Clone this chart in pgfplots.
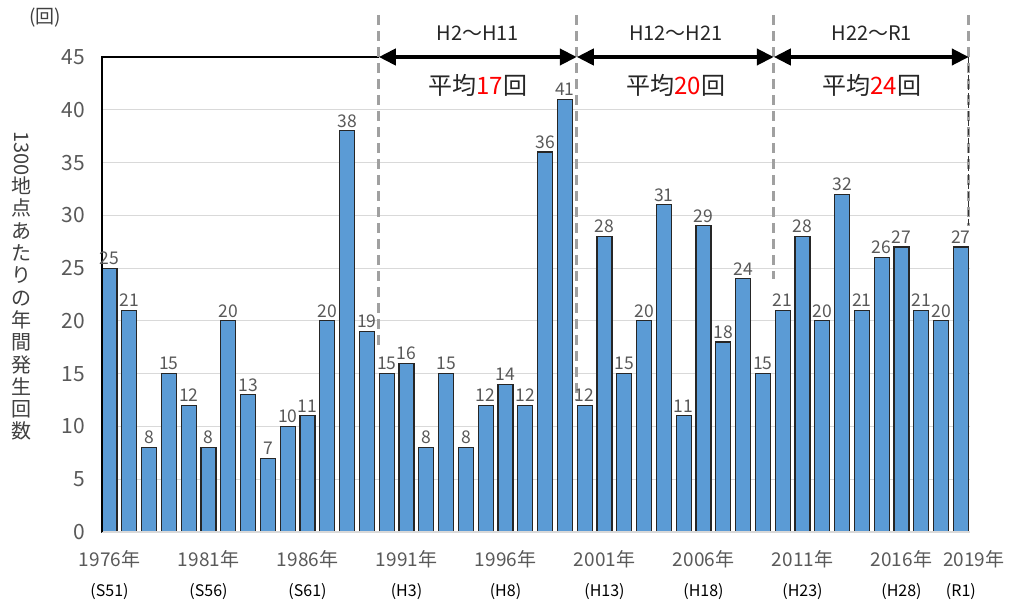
\documentclass[border=0pt]{standalone}
\usepackage{pgfplots}
\pgfplotsset{compat=1.18}
\usepackage{pgfplotstable}
\usepackage{fontspec}
\setmainfont{Noto Sans CJK JP}
\usetikzlibrary{arrows.meta}
\definecolor{barblue}{HTML}{5B9BD5}
\definecolor{txtgray}{HTML}{595959}
\definecolor{gridgray}{HTML}{D9D9D9}
\definecolor{dashgray}{HTML}{A0A0A0}
\definecolor{labdark}{HTML}{404040}

\pgfplotstableread{
year val
1976 25
1977 21
1978 8
1979 15
1980 12
1981 8
1982 20
1983 13
1984 7
1985 10
1986 11
1987 20
1988 38
1989 19
1990 15
1991 16
1992 8
1993 15
1994 8
1995 12
1996 14
1997 12
1998 36
1999 41
2000 12
2001 28
2002 15
2003 20
2004 31
2005 11
2006 29
2007 18
2008 24
2009 15
2010 21
2011 28
2012 20
2013 32
2014 21
2015 26
2016 27
2017 21
2018 20
2019 27
}\datatable

\begin{document}
\begin{tikzpicture}
\path[use as bounding box] (-102pt,-76pt) rectangle (911pt,532pt);
\begin{axis}[
  at={(0,0)}, anchor=south west,
  scale only axis,
  width=868pt, height=475pt,
  xmin=1975.62, xmax=2019.46,
  ymin=0, ymax=45,
  clip=false,
  axis line style={draw=none},
  major tick length=0pt,
  ymajorgrids,
  grid style={gridgray, line width=1pt},
  ytick={0,5,...,40},
  extra y ticks={45},
  extra y tick style={grid=none},
  /pgf/number format/assume math mode=true,
  yticklabel style={font=\fontsize{21}{21}\selectfont, text=txtgray, anchor=east, inner sep=0pt, xshift=-17pt},
  xtick={1976,1981,1986,1991,1996,2001,2006,2011,2016,2019},
  xticklabels={
    {1976年\\\textcolor{black}{\fontsize{16}{16}\selectfont(S51)}},
    {1981年\\\textcolor{black}{\fontsize{16}{16}\selectfont(S56)}},
    {1986年\\\textcolor{black}{\fontsize{16}{16}\selectfont(S61)}},
    {1991年\\\textcolor{black}{\fontsize{16}{16}\selectfont(H3)}},
    {1996年\\\textcolor{black}{\fontsize{16}{16}\selectfont(H8)}},
    {2001年\\\textcolor{black}{\fontsize{16}{16}\selectfont(H13)}},
    {2006年\\\textcolor{black}{\fontsize{16}{16}\selectfont(H18)}},
    {2011年\\\textcolor{black}{\fontsize{16}{16}\selectfont(H23)}},
    {2016年\\\textcolor{black}{\fontsize{16}{16}\selectfont(H28)}},
    {\hspace*{26pt}2019年\\\textcolor{black}{\fontsize{16}{16}\selectfont(R1)}}
  },
  xticklabel style={align=center, font=\fontsize{19}{30}\selectfont, text=txtgray, anchor=north, inner sep=0pt, yshift=-18pt},
]
\addplot[ybar, bar width=0.76, fill=barblue, draw=black!85, line width=1.1pt,
  nodes near coords,
  every node near coord/.append style={font=\fontsize{17.5}{17.5}\selectfont, text=txtgray, inner sep=2pt, yshift=1pt}]
  table[x=year, y=val] {\datatable};

% axis lines
\draw[gridgray, line width=1.2pt] (axis cs:1975.62,0) -- (axis cs:2019.46,0);
\draw[black, line width=1.2pt] (axis cs:1975.62,0) -- (axis cs:1975.62,45) -- (axis cs:1989.6,45);

% period separators
\draw[dashgray, line width=3pt, dash pattern=on 10pt off 6pt] (axis cs:1989.6,49) -- (axis cs:1989.6,17.7);
\draw[dashgray, line width=3pt, dash pattern=on 10pt off 6pt] (axis cs:1999.6,49) -- (axis cs:1999.6,12.6);
\draw[dashgray, line width=3pt, dash pattern=on 10pt off 6pt] (axis cs:2009.55,49) -- (axis cs:2009.55,24);
\draw[dashgray, line width=3pt, dash pattern=on 10pt off 6pt] (axis cs:2019.4,49) -- (axis cs:2019.4,29);
\draw[black!80, line width=1pt, dash pattern=on 6pt off 3pt] (axis cs:2019.4,45) -- (axis cs:2019.4,29);

% period arrows
\draw[line width=4pt, {Triangle[length=17pt,width=16pt]}-{Triangle[length=17pt,width=16pt]}] (axis cs:1989.6,45) -- (axis cs:1999.6,45);
\draw[line width=4pt, {Triangle[length=17pt,width=16pt]}-{Triangle[length=17pt,width=16pt]}] (axis cs:1999.6,45) -- (axis cs:2009.55,45);
\draw[line width=4pt, {Triangle[length=17pt,width=16pt]}-{Triangle[length=17pt,width=16pt]}] (axis cs:2009.55,45) -- (axis cs:2019.4,45);

\node[font=\fontsize{20}{20}\selectfont, text=black!85] at (axis cs:1994.6,47.3) {H2～H11};
\node[font=\fontsize{20}{20}\selectfont, text=black!85] at (axis cs:2004.6,47.3) {H12～H21};
\node[font=\fontsize{20}{20}\selectfont, text=black!85] at (axis cs:2014.5,47.3) {H22～R1};
\node[font=\fontsize{24}{24}\selectfont, text=black!85] at (axis cs:1994.6,42.3) {平均\textcolor{red}{17}回};
\node[font=\fontsize{24}{24}\selectfont, text=black!85] at (axis cs:2004.6,42.3) {平均\textcolor{red}{20}回};
\node[font=\fontsize{24}{24}\selectfont, text=black!85] at (axis cs:2014.5,42.3) {平均\textcolor{red}{24}回};
\end{axis}

\node[font=\fontsize{19}{19}\selectfont, text=labdark] at (-57pt,514pt) {(回)};
\node[font=\fontsize{20}{22.3}\selectfont, text=labdark, align=center, inner sep=0pt] at (-80pt,246pt)
  {\rotatebox{-90}{1300}\\地\\点\\あ\\た\\り\\の\\年\\間\\発\\生\\回\\数};
\end{tikzpicture}
\end{document}
